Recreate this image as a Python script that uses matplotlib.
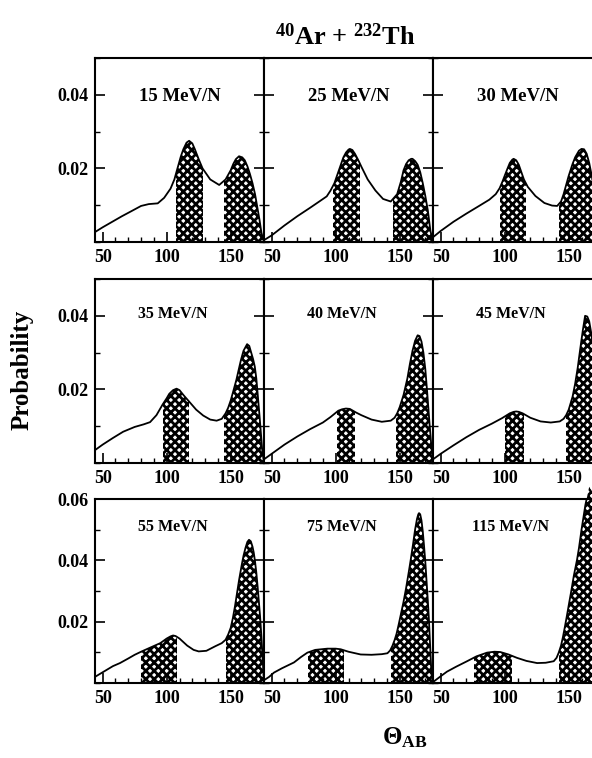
import numpy as np
import matplotlib
matplotlib.use('Agg')
import matplotlib.pyplot as plt
from matplotlib.patches import Rectangle
from matplotlib.ticker import MultipleLocator, FixedLocator

plt.rcParams['font.family'] = ['Liberation Serif', 'DejaVu Serif']
plt.rcParams['font.weight'] = 'bold'
plt.rcParams['mathtext.fontset'] = 'custom'
plt.rcParams['mathtext.rm'] = 'Liberation Serif:bold'
plt.rcParams['mathtext.it'] = 'Liberation Serif:bold'
plt.rcParams['mathtext.bf'] = 'Liberation Serif:bold'
plt.rcParams['hatch.linewidth'] = 2.0

# 各能量下的角分布 (theta, probability)，以及阴影区间
labels = ['15 MeV/N', '25 MeV/N', '30 MeV/N',
          '35 MeV/N', '40 MeV/N', '45 MeV/N',
          '55 MeV/N', '75 MeV/N', '115 MeV/N']

theta_15 = [44, 50, 58, 65, 72, 80, 86, 93, 98, 103, 106, 108, 111, 113, 115.5, 117.5, 120, 122, 125, 128, 134, 141, 146, 150, 152, 154, 156.5, 159, 161, 163, 165, 167, 169, 171, 172.5, 174, 176]
prob_15 = [.0027, .0040, .0056, .0070, .0083, .0098, .0103, .0105, .0120, .0145, .0170, .0195, .0232, .0252, .0270, .0275, .0268, .0252, .0225, .0200, .0170, .0155, .0170, .0195, .0212, .0225, .0233, .0230, .0222, .0206, .0185, .0160, .0130, .0090, .0060, .0025, 0]
hatch_15 = [(107.5, 128), (145, 176)]

theta_25 = [44, 50, 60, 70, 80, 88, 93, 96, 99, 102, 104, 106, 108, 110, 111, 113, 115, 118, 120, 125, 131, 137, 143, 148, 151, 153, 155, 157, 159, 160, 162, 164, 166, 168, 170, 172, 174, 176]
prob_25 = [.0005, .0018, .0045, .0070, .0093, .0112, .0124, .0140, .0160, .0190, .0210, .0230, .0243, .0251, .0253, .0250, .0240, .0220, .0205, .0170, .0140, .0117, .0110, .0130, .0165, .0195, .0212, .0222, .0226, .0226, .0220, .0210, .0190, .0160, .0125, .0085, .0030, 0]
hatch_25 = [(98, 119), (145, 176)]

theta_30 = [44, 50, 60, 70, 80, 88, 93, 96, 98, 100, 102, 104, 106, 107, 109, 111, 113, 115, 118, 124, 131, 137, 141, 144, 146, 148, 150, 153, 155, 158, 160, 162, 164, 166, 168, 170, 172, 174, 176]
prob_30 = [.0013, .0030, .0055, .0077, .0098, .0115, .0130, .0146, .0162, .0180, .0198, .0215, .0224, .0226, .0222, .0210, .0190, .0170, .0150, .0125, .0106, .0099, .0098, .0110, .0130, .0155, .0180, .0212, .0230, .0248, .0253, .0252, .0240, .0215, .0180, .0135, .0090, .0040, 0]
hatch_30 = [(96, 117), (142.5, 176)]

theta_35 = [44, 50, 58, 66, 75, 82, 87, 92, 97, 100, 102, 105, 107.7, 110, 113, 118, 123, 128.5, 134, 139, 143, 146, 148, 150, 152, 154.5, 156, 158, 160, 162.8, 164.5, 166, 167.5, 168.8, 170, 171, 172.7, 174.5, 176]
prob_35 = [.0035, .0050, .0068, .0085, .0098, .0105, .0111, .0130, .0160, .0176, .0188, .0198, .0202, .0198, .0185, .0165, .0145, .0129, .0118, .0115, .0120, .0135, .0150, .0170, .0195, .0227, .0250, .0280, .0305, .0323, .0318, .0300, .0282, .0262, .0230, .0190, .0120, .0040, 0]
hatch_35 = [(97.5, 117.5), (144.5, 176)]

theta_40 = [44, 50, 60, 70, 80, 90, 96, 102, 105, 108, 111, 113, 116, 120, 128, 136, 143, 146, 148, 150, 153, 156, 158, 160, 162, 164, 165.5, 167, 168.5, 170, 171.5, 173, 174.5, 176]
prob_40 = [.0010, .0025, .0050, .0072, .0092, .0110, .0125, .0142, .0146, .0148, .0147, .0143, .0137, .0130, .0118, .0112, .0115, .0123, .0135, .0152, .0185, .0230, .0270, .0305, .0332, .0347, .0345, .0330, .0300, .0255, .0190, .0120, .0055, 0]
hatch_40 = [(101, 115), (147, 176)]

theta_45 = [44, 50, 60, 70, 80, 90, 98, 104, 107, 109, 111, 114, 120, 128, 136, 143, 146, 148, 150, 153, 155, 157, 159, 161, 162.8, 164.5, 166, 167.5, 169, 170.5, 172, 173.5, 175, 176]
prob_45 = [.0010, .0025, .0048, .0070, .0090, .0107, .0122, .0135, .0139, .0140, .0139, .0135, .0123, .0113, .0110, .0113, .0120, .0130, .0145, .0180, .0215, .0258, .0310, .0360, .0400, .0398, .0385, .0355, .0315, .0260, .0195, .0125, .0050, 0]
hatch_45 = [(100, 115), (148, 176)]

theta_55 = [44, 52, 58, 63.5, 70, 75, 80.5, 88, 95, 100, 103, 105, 107, 110, 116, 121, 125, 131, 138, 143, 146, 148, 150, 151.7, 153.4, 155, 156.5, 158.6, 160, 161.5, 163, 164.3, 165.7, 167, 168, 169, 170, 171, 172, 172.9, 174, 175, 176]
prob_55 = [.0020, .0040, .0055, .0065, .0080, .0092, .0103, .0117, .0130, .0145, .0152, .0155, .0153, .0145, .0122, .0108, .0103, .0105, .0120, .0130, .0141, .0158, .0180, .0212, .0252, .0295, .0335, .0385, .0415, .0440, .0460, .0467, .0462, .0445, .0425, .0396, .0360, .0315, .0265, .0219, .0150, .0075, 0]
hatch_55 = [(80, 108), (146, 176)]

theta_75 = [44, 48, 51.8, 58, 67.4, 73, 77.9, 84, 93.5, 100, 103.9, 110, 119.5, 128, 136, 140.4, 142.5, 144.3, 146, 147.5, 149, 150.8, 153, 155, 157, 158.6, 160.5, 162, 163.5, 164.5, 165.1, 166, 167, 168, 169, 170, 171, 172, 172.9, 174, 174.8, 176]
prob_75 = [.0009, .0020, .0034, .0048, .0067, .0085, .0099, .0108, .0112, .0112, .0110, .0102, .0093, .0092, .0094, .0097, .0106, .0121, .0140, .0160, .0187, .0222, .0265, .0310, .0360, .0402, .0455, .0500, .0535, .0550, .0554, .0550, .0530, .0495, .0447, .0395, .0330, .0265, .0200, .0100, .0030, 0]
hatch_75 = [(78, 106.5), (143, 176)]

theta_115 = [44, 50, 54.9, 62, 70.6, 78, 86.2, 92, 96.6, 103, 109.6, 117, 125.3, 132, 138.3, 140.5, 142.2, 144, 145.5, 147, 148.7, 150.5, 152, 154, 156.5, 158, 160, 161.5, 163, 166, 169, 172, 174.5, 176]
prob_115 = [.0003, .0022, .0037, .0053, .0071, .0087, .0099, .0102, .0101, .0093, .0082, .0072, .0065, .0066, .0071, .0082, .0099, .0122, .0150, .0183, .0222, .0265, .0300, .0350, .0402, .0440, .0500, .0540, .0580, .0640, .0620, .0400, .0120, 0]
hatch_115 = [(75.7, 105.7), (142.2, 176)]

thetas = [theta_15, theta_25, theta_30, theta_35, theta_40, theta_45, theta_55, theta_75, theta_115]
probs = [prob_15, prob_25, prob_30, prob_35, prob_40, prob_45, prob_55, prob_75, prob_115]
hatches = [hatch_15, hatch_25, hatch_30, hatch_35, hatch_40, hatch_45, hatch_55, hatch_75, hatch_115]

W, H = 592, 758
fig = plt.figure(figsize=(W / 100, H / 100), dpi=100)

col_left = [95, 264, 433]
row_bottom = [242, 463, 683]
pw, ph = 169, 184
y_top = [0.05, 0.05, 0.06]
label_y = [0.79, 0.81, 0.85]
label_x = [0.5, 0.46, 0.46]
label_size = [13.5, 11.5, 11.5]

for i in range(9):
    r, c = divmod(i, 3)
    ax = fig.add_axes([col_left[c] / W, (H - row_bottom[r]) / H, pw / W, ph / H])
    x = np.array(thetas[i])
    y = np.array(probs[i])
    for lo, hi in hatches[i]:
        poly = ax.fill_between(x, 0, y, facecolor='white', edgecolor='black',
                               hatch='xxxx', linewidth=0)
        poly.set_clip_path(Rectangle((lo, 0), hi - lo, 1, transform=ax.transData))
    ax.plot(x, y, color='black', lw=1.3)
    ax.set_xlim(44, 176)
    ax.set_ylim(0, y_top[r])
    ax.xaxis.set_major_locator(FixedLocator([50, 100, 150]))
    ax.xaxis.set_minor_locator(MultipleLocator(10))
    if r == 2:
        ax.yaxis.set_major_locator(FixedLocator([0.02, 0.04, 0.06]))
    else:
        ax.yaxis.set_major_locator(FixedLocator([0.02, 0.04]))
    ax.yaxis.set_minor_locator(MultipleLocator(0.01))
    ax.tick_params(which='both', direction='in', top=False, right=True, labelsize=13, pad=5)
    ax.tick_params(which='major', length=7, width=1.2)
    ax.tick_params(which='minor', length=3.5, width=1.0)
    if c != 0:
        ax.tick_params(labelleft=False)
    for s in ax.spines.values():
        s.set_linewidth(1.5)
    ax.text(label_x[r], label_y[r], labels[i], transform=ax.transAxes,
            ha='center', va='center', fontsize=label_size[r], fontweight='bold')

fig.text(345 / W, 1 - 45 / H, r'$^{40}$Ar + $^{232}$Th', ha='center', va='baseline',
         fontsize=19, fontweight='bold')
fig.text(22 / W, 1 - 370 / H, 'Probability', rotation=90, ha='center', va='center',
         fontsize=18, fontweight='bold')
fig.text(405 / W, 1 - 738 / H, r'$\Theta_{AB}$', ha='center', va='center',
         fontsize=18, fontweight='bold')

fig.savefig('out.png', dpi=100)
